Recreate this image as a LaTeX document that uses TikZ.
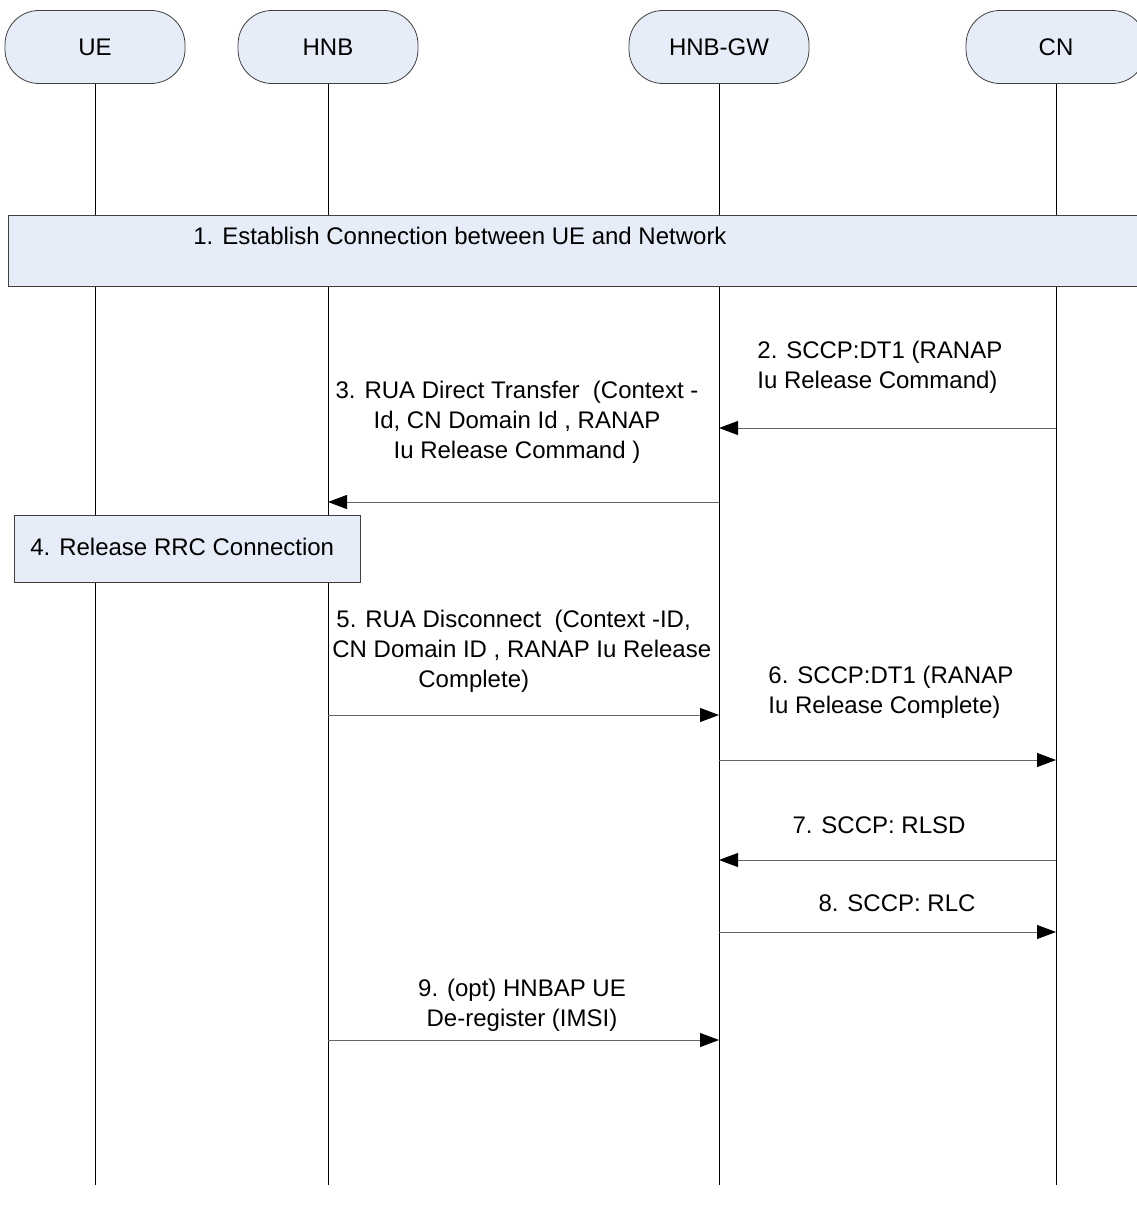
\documentclass[tikz,border=0pt]{standalone}
\usepackage{fontspec}
\setmainfont{Liberation Sans}
\usetikzlibrary{arrows.meta}
\definecolor{boxblue}{RGB}{230,237,248}
\tikzset{
	entity/.style={draw=black!75, fill=boxblue, rounded corners=17pt, minimum width=90pt, minimum height=36.5pt, inner sep=0, font=\fontsize{12}{15}\selectfont},
	band/.style={draw=black!75, fill=boxblue},
	life/.style={line width=0.5pt},
	lbl/.style={inner sep=0, font=\fontsize{12}{15}\selectfont},
	msgline/.style={line width=0.5pt, draw=black!60, -{Triangle[length=9.5pt,width=7pt,black]}}
}
\newcommand{\msg}[3]{
	\draw[msgline](#1 |- 0,#3)--(#2 |- 0,#3)
}

\begin{document}
\begin{tikzpicture}[x=0.5pt,y=-0.5pt]
		\useasboundingbox (0,0) rectangle (1136,1214);
		% heads and lifelines
		\node[entity] (ue) at (95,47) {UE};
		\node[entity] (hnb) at (328,47) {HNB};
		\node[entity] (gw) at (719,47) {HNB-GW};
		\node[entity] (cn) at (1056,47) {CN};
		\foreach \n in {ue,hnb,gw,cn}
			\draw[life](\n.south)--(\n |- 0,1185);
		% boxes
		\draw[band](8,215) rectangle (1145,286);
		\node[lbl, anchor=west] (est) at (193,236) {1. Establish Connection between UE and Network};
		\draw[band](14,515) rectangle (360,582);
		\node[lbl, anchor=west] (rrc) at (30,547) {4. Release RRC Connection};
		% messages
		\node[lbl, align=left, anchor=west] (t2) at (757,367) {2. SCCP:DT1 (RANAP\\Iu Release Command)};
		\msg{cn}{gw}{428};
		\node[lbl, align=center] (t3) at (517,422) {3. RUA Direct Transfer\ \ (Context -\\Id, CN Domain Id , RANAP\\Iu Release Command )};
		\msg{gw}{hnb}{502};
		\node[lbl, align=left, anchor=west] (t5) at (332,651) {\hspace*{2pt}5. RUA Disconnect\ \ (Context -ID,\\CN Domain ID , RANAP Iu Release\\\hspace*{43pt}Complete)};
		\msg{hnb}{gw}{715};
		\node[lbl, align=left, anchor=west] (t6) at (768,692) {6. SCCP:DT1 (RANAP\\Iu Release Complete)};
		\msg{gw}{cn}{760};
		\node[lbl] (t7) at (879,825) {7. SCCP: RLSD};
		\msg{cn}{gw}{860};
		\node[lbl] (t8) at (897,903) {8. SCCP: RLC};
		\msg{gw}{cn}{932};
		\node[lbl, align=center] (t9) at (522,1005) {9. (opt) HNBAP UE\\De-register (IMSI)};
		\msg{hnb}{gw}{1040};
	\end{tikzpicture}
\end{document}
